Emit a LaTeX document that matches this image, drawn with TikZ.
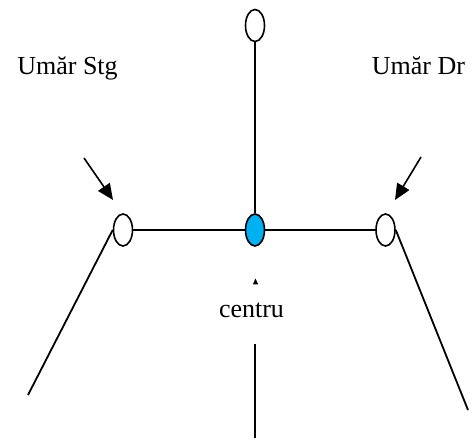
\documentclass[tikz,border=0pt]{standalone}
\usepackage{fontspec}
\setmainfont{Liberation Serif}
\usetikzlibrary{shapes.geometric,arrows.meta}
\definecolor{ctrblue}{RGB}{0,176,240}
\begin{document}
\begin{tikzpicture}[x=1pt,y=-1pt,
  joint/.style={draw=black,ellipse,line width=1.6pt,minimum width=19pt,minimum height=32pt,inner sep=0pt,fill=white},
  link/.style={line width=1.8pt,draw=black},
  pointer/.style={line width=1.6pt,-{Triangle[length=16pt,width=14pt]}},
  lbl/.style={font=\fontsize{26}{30}\selectfont,anchor=base,inner sep=0pt}]
\useasboundingbox (0,0) rectangle (472,441);
% nodes
\node[joint] (top) at (255,25.5) {};
\node[joint,fill=ctrblue] (ctr) at (255,230) {};
\node[joint] (l) at (123,230) {};
\node[joint] (r) at (385.5,230) {};
\node[lbl] (ls) at (67.5,75) {Umăr Stg};
\node[lbl] (rs) at (418.5,75) {Umăr Dr};
\node[lbl] (c) at (251.5,318) {centru};
% free ends
\coordinate (lend) at (28,395);
\coordinate (rend) at (468,410);
\coordinate (btop) at (255,344);
\coordinate (bbot) at (255,438);
\coordinate (la0) at (84,158);
\coordinate (la1) at (113,200);
\coordinate (ra0) at (421,157);
\coordinate (ra1) at (395,200);
% connectors
\draw[link] (top.south) -- (ctr.north);
\draw[link] (l.east) -- (ctr.west);
\draw[link] (ctr.east) -- (r.west);
\draw[link] (l.west) -- (lend);
\draw[link] (r.east) -- (rend);
\draw[link] (btop) -- (bbot);
\draw[pointer] (la0) -- (la1);
\draw[pointer] (ra0) -- (ra1);
% tiny arrowhead
\fill (252.8,284.5) -- (258.2,284.5) -- (255.5,278.5) -- cycle;
\end{tikzpicture}
\end{document}
